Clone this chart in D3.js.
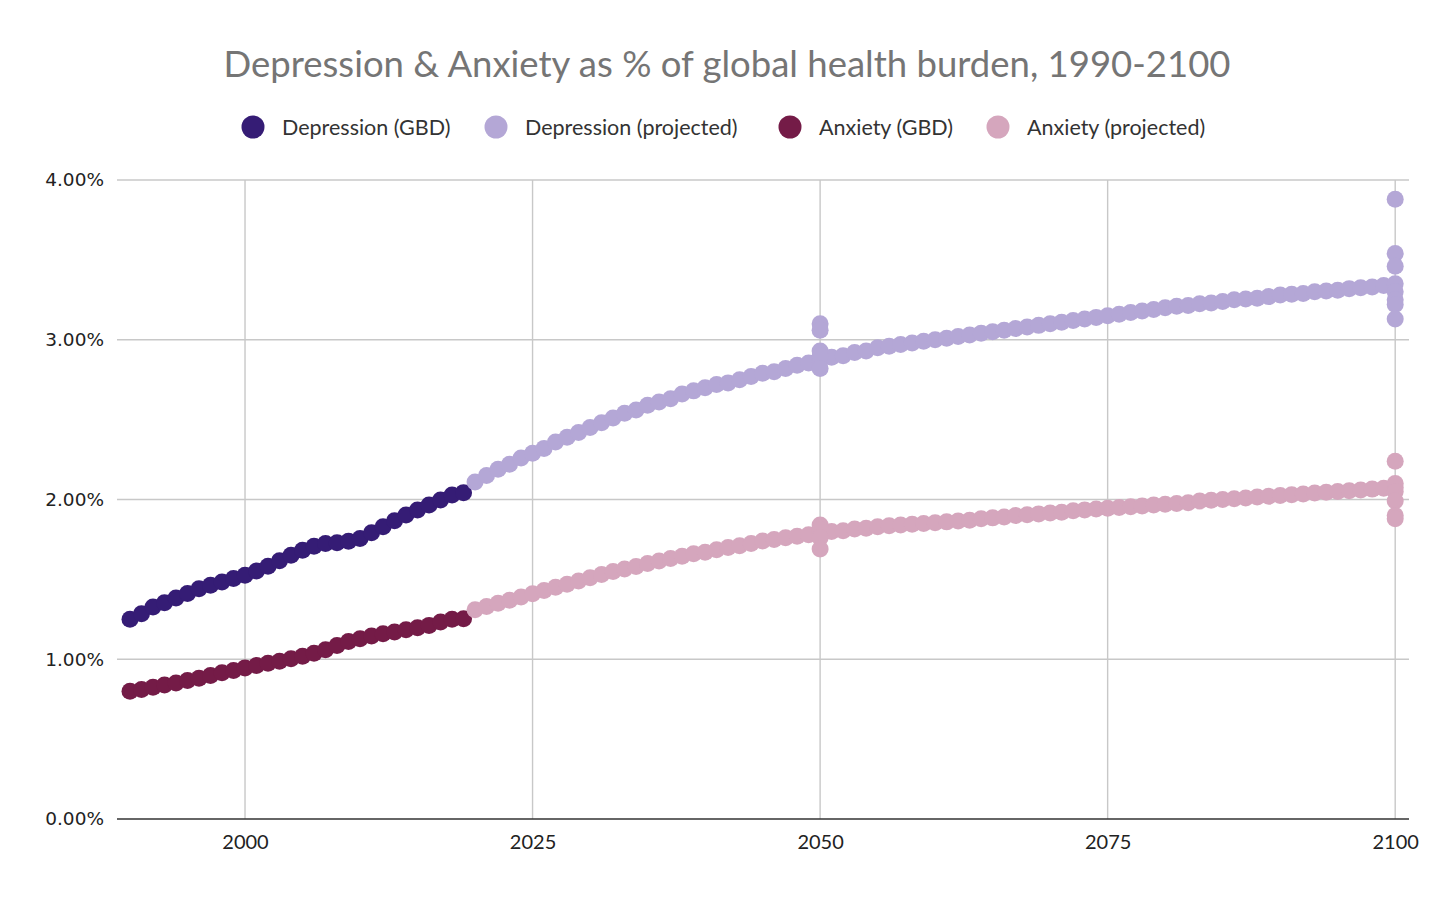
<!DOCTYPE html>
<html>
<head>
<meta charset="utf-8">
<script src="https://cdn.jsdelivr.net/npm/d3@7"></script>
<style>
  body { margin: 0; background: #fff; }
  svg { display: block; }
</style>
</head>
<body>
<div id="chart"></div>
<script>
// ---- data (share of global health burden, %) ----
const gbdYears = d3.range(1990, 2020);
const depressionGBD = [1.25, 1.285, 1.327, 1.354, 1.383, 1.411, 1.442, 1.463, 1.484, 1.505,
    1.526, 1.553, 1.582, 1.616, 1.651, 1.683, 1.708, 1.725, 1.729, 1.739,
    1.756, 1.792, 1.829, 1.867, 1.903, 1.934, 1.965, 1.997, 2.028, 2.043];
const anxietyGBD = [0.80, 0.81, 0.825, 0.839, 0.852, 0.867, 0.881, 0.898, 0.915, 0.929,
    0.946, 0.961, 0.975, 0.988, 1.003, 1.019, 1.038, 1.059, 1.086, 1.111,
    1.128, 1.145, 1.16, 1.17, 1.185, 1.197, 1.212, 1.233, 1.25, 1.254];

const projYears = d3.range(2020, 2101);
const depressionProj = [2.11, 2.15, 2.19, 2.22, 2.26, 2.29, 2.32, 2.36, 2.39, 2.42,
    2.45, 2.48, 2.51, 2.54, 2.56, 2.59, 2.61, 2.63, 2.66, 2.68,
    2.70, 2.72, 2.73, 2.75, 2.77, 2.79, 2.80, 2.82, 2.84, 2.855,
    2.87, 2.89, 2.90, 2.92, 2.93, 2.95, 2.96, 2.97, 2.98, 2.99,
    3.00, 3.01, 3.02, 3.03, 3.04, 3.05, 3.06, 3.07, 3.08, 3.09,
    3.10, 3.11, 3.12, 3.13, 3.14, 3.15, 3.16, 3.17, 3.18, 3.19,
    3.20, 3.21, 3.215, 3.225, 3.23, 3.24, 3.25, 3.255, 3.26, 3.27,
    3.28, 3.285, 3.29, 3.30, 3.305, 3.31, 3.32, 3.325, 3.33, 3.34,
    3.35];
const anxietyProj = [1.31, 1.33, 1.35, 1.37, 1.39, 1.41, 1.43, 1.45, 1.47, 1.49,
    1.51, 1.53, 1.55, 1.565, 1.58, 1.60, 1.615, 1.63, 1.645, 1.66,
    1.67, 1.685, 1.70, 1.71, 1.725, 1.74, 1.75, 1.76, 1.77, 1.78,
    1.79, 1.80, 1.805, 1.815, 1.82, 1.83, 1.835, 1.84, 1.845, 1.85,
    1.855, 1.86, 1.865, 1.87, 1.88, 1.885, 1.89, 1.90, 1.905, 1.91,
    1.915, 1.92, 1.93, 1.935, 1.94, 1.945, 1.95, 1.955, 1.96, 1.965,
    1.97, 1.975, 1.98, 1.99, 1.995, 2.00, 2.005, 2.01, 2.015, 2.02,
    2.025, 2.03, 2.035, 2.04, 2.045, 2.05, 2.055, 2.06, 2.065, 2.07,
    2.075];

// alternative scenario points at 2050 and 2100
const depScenarioYears = [2050, 2050, 2050, 2050, 2050, 2100, 2100, 2100, 2100, 2100, 2100, 2100];
const depScenarioValues = [3.10, 3.06, 2.93, 2.90, 2.82, 3.88, 3.54, 3.46, 3.30, 3.25, 3.22, 3.13];
const anxScenarioYears = [2050, 2050, 2050, 2050, 2100, 2100, 2100, 2100, 2100, 2100];
const anxScenarioValues = [1.84, 1.81, 1.76, 1.69, 2.24, 2.10, 2.05, 1.99, 1.90, 1.88];

const seriesNames = ["Depression (GBD)", "Depression (projected)", "Anxiety (GBD)", "Anxiety (projected)"];
const seriesColors = ["#351c75", "#b4a7d6", "#741b47", "#d5a6bd"];
const xTicks = [2000, 2025, 2050, 2075, 2100];
const yTicks = [0, 1, 2, 3, 4];

// ---- layout ----
const width = 1454, height = 900;
const margin = {top: 180, right: 45, bottom: 81, left: 117};

const svg = d3.select("#chart").append("svg")
    .attr("width", width)
    .attr("height", height);

const x = d3.scaleLinear()
    .domain([1988.87, 2101.2])
    .range([margin.left, width - margin.right]);

const y = d3.scaleLinear()
    .domain([0, 4])
    .range([height - margin.bottom, margin.top]);

// title
svg.append("text")
    .attr("x", 727)
    .attr("y", 77)
    .attr("text-anchor", "middle")
    .style("font-family", "Lato, 'Open Sans', sans-serif")
    .style("font-size", "36.5px")
    .style("fill", "#757575")
    .text("Depression & Anxiety as % of global health burden, 1990-2100");

// legend
const legendX = [253, 496, 790, 998];
const legend = svg.append("g").selectAll("g")
    .data(seriesNames)
    .join("g")
    .attr("transform", (d, i) => "translate(" + legendX[i] + ",127)");

legend.append("circle")
    .attr("r", 11.5)
    .attr("fill", (d, i) => seriesColors[i]);

legend.append("text")
    .attr("x", 29)
    .attr("dy", "0.35em")
    .style("font-family", "Lato, 'Open Sans', sans-serif")
    .style("font-size", "21.5px")
    .style("fill", "#333")
    .text(d => d);

// gridlines
const grid = svg.append("g");
grid.selectAll(".hgrid")
    .data(yTicks.filter(d => d > 0))
    .join("line")
    .attr("class", "hgrid")
    .attr("x1", margin.left)
    .attr("x2", width - margin.right)
    .attr("y1", d => y(d))
    .attr("y2", d => y(d))
    .attr("stroke", "#c8c8c8")
    .attr("stroke-width", 1.4);

grid.selectAll(".vgrid")
    .data(xTicks)
    .join("line")
    .attr("class", "vgrid")
    .attr("x1", d => x(d))
    .attr("x2", d => x(d))
    .attr("y1", y(4))
    .attr("y2", y(0))
    .attr("stroke", "#c8c8c8")
    .attr("stroke-width", 1.4);

// y axis labels
const yAxis = d3.axisLeft(y)
    .tickValues(yTicks)
    .tickFormat(d => d3.format(".2f")(d) + "%")
    .tickSize(0)
    .tickPadding(13);

svg.append("g")
    .attr("transform", "translate(" + margin.left + ",0)")
    .call(yAxis)
    .call(g => g.select(".domain").remove())
    .selectAll("text")
    .style("font-family", "'DejaVu Sans', Verdana, sans-serif")
    .style("font-size", "18.5px")
    .style("fill", "#222");

// x axis
const xAxis = d3.axisBottom(x)
    .tickValues(xTicks)
    .tickFormat(d3.format("d"))
    .tickSize(0)
    .tickPadding(16);

svg.append("g")
    .attr("transform", "translate(0," + y(0) + ")")
    .call(xAxis)
    .call(g => g.select(".domain").remove())
    .selectAll("text")
    .style("font-family", "Lato, 'Open Sans', sans-serif")
    .style("font-size", "20px")
    .style("fill", "#222");

// points
function toPoints(xs, vs) {
    return xs.map((d, i) => ({year: d, value: vs[i]}));
}

const series = [
    toPoints(gbdYears, depressionGBD),
    toPoints(projYears, depressionProj).concat(toPoints(depScenarioYears, depScenarioValues)),
    toPoints(gbdYears, anxietyGBD),
    toPoints(projYears, anxietyProj).concat(toPoints(anxScenarioYears, anxScenarioValues))
];

const dots = svg.append("g");
series.forEach(function (s, i) {
    dots.append("g").selectAll("circle")
        .data(s)
        .join("circle")
        .attr("cx", d => x(d.year))
        .attr("cy", d => y(d.value))
        .attr("r", 8.5)
        .attr("fill", seriesColors[i]);
});

// baseline
svg.append("line")
    .attr("x1", margin.left)
    .attr("x2", width - margin.right)
    .attr("y1", y(0))
    .attr("y2", y(0))
    .attr("stroke", "#333")
    .attr("stroke-width", 1.5);
</script>
</body>
</html>
